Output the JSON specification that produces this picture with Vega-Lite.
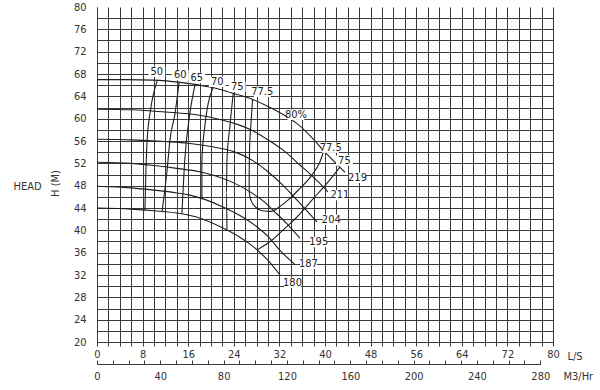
{
  "$schema": "https://vega.github.io/schema/vega-lite/v6.json",
  "width": 456,
  "height": 335,
  "autosize": {"type": "none"},
  "padding": {"left": 97, "top": 7, "right": 47, "bottom": 48},
  "background": "white",
  "config": {
    "font": "Liberation Sans Narrow, DejaVu Sans Condensed, DejaVu Sans",
    "view": {"stroke": null},
    "axis": {"labelFontSize": 11, "labelColor": "#333", "titleFontSize": 11, "titleColor": "#333", "titleFontWeight": "normal", "labelFlush": false, "labelOverlap": false, "domainColor": "#3a3a3a", "tickColor": "#3a3a3a", "gridColor": "#3a3a3a"}
  },
  "datasets": {
    "lines": [
      {"s": "219", "o": 0, "q": 0, "h": 67.0}, {"s": "219", "o": 1, "q": 5, "h": 67.0}, {"s": "219", "o": 2, "q": 10, "h": 66.9}, {"s": "219", "o": 3, "q": 14.6, "h": 66.5}, {"s": "219", "o": 4, "q": 18, "h": 66.0}, {"s": "219", "o": 5, "q": 21, "h": 65.4}, {"s": "219", "o": 6, "q": 24, "h": 64.5}, {"s": "219", "o": 7, "q": 27.4, "h": 63.4}, {"s": "219", "o": 8, "q": 30, "h": 62.2}, {"s": "219", "o": 9, "q": 32.6, "h": 60.8}, {"s": "219", "o": 10, "q": 35.1, "h": 59.1}, {"s": "219", "o": 11, "q": 37.7, "h": 56.6}, {"s": "219", "o": 12, "q": 40, "h": 54.0}, {"s": "219", "o": 13, "q": 42.1, "h": 51.8}, {"s": "219", "o": 14, "q": 43.5, "h": 50.4},
      {"s": "211", "o": 0, "q": 0, "h": 61.7}, {"s": "211", "o": 1, "q": 6, "h": 61.6}, {"s": "211", "o": 2, "q": 12, "h": 61.2}, {"s": "211", "o": 3, "q": 18, "h": 60.6}, {"s": "211", "o": 4, "q": 21, "h": 60.0}, {"s": "211", "o": 5, "q": 24, "h": 59.2}, {"s": "211", "o": 6, "q": 27, "h": 58.0}, {"s": "211", "o": 7, "q": 30, "h": 56.2}, {"s": "211", "o": 8, "q": 32.6, "h": 54.4}, {"s": "211", "o": 9, "q": 35.6, "h": 51.7}, {"s": "211", "o": 10, "q": 38, "h": 49.5}, {"s": "211", "o": 11, "q": 39.1, "h": 48.4}, {"s": "211", "o": 12, "q": 40.5, "h": 46.9},
      {"s": "204", "o": 0, "q": 0, "h": 56.3}, {"s": "204", "o": 1, "q": 6, "h": 56.2}, {"s": "204", "o": 2, "q": 12, "h": 55.9}, {"s": "204", "o": 3, "q": 16, "h": 55.6}, {"s": "204", "o": 4, "q": 20, "h": 55.0}, {"s": "204", "o": 5, "q": 24, "h": 54.1}, {"s": "204", "o": 6, "q": 27, "h": 52.7}, {"s": "204", "o": 7, "q": 30, "h": 50.5}, {"s": "204", "o": 8, "q": 32.6, "h": 48.1}, {"s": "204", "o": 9, "q": 35.1, "h": 45.4}, {"s": "204", "o": 10, "q": 37.7, "h": 42.5}, {"s": "204", "o": 11, "q": 38.6, "h": 41.5},
      {"s": "195", "o": 0, "q": 0, "h": 52.2}, {"s": "195", "o": 1, "q": 6, "h": 52.0}, {"s": "195", "o": 2, "q": 10, "h": 51.6}, {"s": "195", "o": 3, "q": 14, "h": 51.1}, {"s": "195", "o": 4, "q": 18, "h": 50.5}, {"s": "195", "o": 5, "q": 21, "h": 49.7}, {"s": "195", "o": 6, "q": 24, "h": 48.5}, {"s": "195", "o": 7, "q": 27, "h": 46.8}, {"s": "195", "o": 8, "q": 29.8, "h": 44.7}, {"s": "195", "o": 9, "q": 31, "h": 43.5}, {"s": "195", "o": 10, "q": 33.3, "h": 41.2}, {"s": "195", "o": 11, "q": 35.6, "h": 38.6},
      {"s": "187", "o": 0, "q": 0, "h": 47.9}, {"s": "187", "o": 1, "q": 6, "h": 47.6}, {"s": "187", "o": 2, "q": 10, "h": 47.2}, {"s": "187", "o": 3, "q": 14, "h": 46.7}, {"s": "187", "o": 4, "q": 16.3, "h": 46.3}, {"s": "187", "o": 5, "q": 19, "h": 45.5}, {"s": "187", "o": 6, "q": 22.1, "h": 44.2}, {"s": "187", "o": 7, "q": 25, "h": 42.7}, {"s": "187", "o": 8, "q": 28.1, "h": 40.6}, {"s": "187", "o": 9, "q": 30, "h": 38.9}, {"s": "187", "o": 10, "q": 32.1, "h": 36.4}, {"s": "187", "o": 11, "q": 34.7, "h": 33.9},
      {"s": "180", "o": 0, "q": 0, "h": 44.0}, {"s": "180", "o": 1, "q": 6, "h": 43.8}, {"s": "180", "o": 2, "q": 10, "h": 43.5}, {"s": "180", "o": 3, "q": 14.6, "h": 43.0}, {"s": "180", "o": 4, "q": 18, "h": 42.2}, {"s": "180", "o": 5, "q": 22.1, "h": 40.4}, {"s": "180", "o": 6, "q": 25, "h": 38.8}, {"s": "180", "o": 7, "q": 28.1, "h": 36.5}, {"s": "180", "o": 8, "q": 30, "h": 34.6}, {"s": "180", "o": 9, "q": 32.1, "h": 32.0},
      {"s": "e50", "o": 0, "q": 10.6, "h": 66.9}, {"s": "e50", "o": 1, "q": 9.4, "h": 61.6}, {"s": "e50", "o": 2, "q": 8.8, "h": 56.2}, {"s": "e50", "o": 3, "q": 8.6, "h": 51.3}, {"s": "e50", "o": 4, "q": 8.4, "h": 43.6},
      {"s": "e60", "o": 0, "q": 14.4, "h": 66.5}, {"s": "e60", "o": 1, "q": 13.7, "h": 61.0}, {"s": "e60", "o": 2, "q": 12.8, "h": 56.2}, {"s": "e60", "o": 3, "q": 12.3, "h": 50.8}, {"s": "e60", "o": 4, "q": 11.4, "h": 43.3},
      {"s": "e65", "o": 0, "q": 17.2, "h": 66.1}, {"s": "e65", "o": 1, "q": 16.3, "h": 61.0}, {"s": "e65", "o": 2, "q": 15.4, "h": 52.6}, {"s": "e65", "o": 3, "q": 14.9, "h": 43.0},
      {"s": "e70", "o": 0, "q": 20.4, "h": 65.6}, {"s": "e70", "o": 1, "q": 18.9, "h": 58.5}, {"s": "e70", "o": 2, "q": 18.4, "h": 52.6}, {"s": "e70", "o": 3, "q": 18.4, "h": 45.7},
      {"s": "e75", "o": 0, "q": 23.9, "h": 64.5}, {"s": "e75", "o": 1, "q": 23.3, "h": 58.5}, {"s": "e75", "o": 2, "q": 22.8, "h": 52.6}, {"s": "e75", "o": 3, "q": 22.7, "h": 46.7}, {"s": "e75", "o": 4, "q": 22.8, "h": 40.1},
      {"s": "e775", "o": 0, "q": 27.3, "h": 63.5}, {"s": "e775", "o": 1, "q": 27.0, "h": 59.0}, {"s": "e775", "o": 2, "q": 26.8, "h": 55.6}, {"s": "e775", "o": 3, "q": 26.7, "h": 50.0}, {"s": "e775", "o": 4, "q": 26.7, "h": 47.0}, {"s": "e775", "o": 5, "q": 27.0, "h": 45.4}, {"s": "e775", "o": 6, "q": 27.8, "h": 44.2}, {"s": "e775", "o": 7, "q": 29.0, "h": 43.5}, {"s": "e775", "o": 8, "q": 30.5, "h": 43.4}, {"s": "e775", "o": 9, "q": 32.0, "h": 44.2}, {"s": "e775", "o": 10, "q": 33.5, "h": 45.4}, {"s": "e775", "o": 11, "q": 35.3, "h": 47.2}, {"s": "e775", "o": 12, "q": 37.7, "h": 49.9}, {"s": "e775", "o": 13, "q": 39.0, "h": 52.0}, {"s": "e775", "o": 14, "q": 39.8, "h": 54.2},
      {"s": "e75r", "o": 0, "q": 28.1, "h": 36.5}, {"s": "e75r", "o": 1, "q": 30.9, "h": 38.4}, {"s": "e75r", "o": 2, "q": 33.0, "h": 40.4}, {"s": "e75r", "o": 3, "q": 35.0, "h": 42.3}, {"s": "e75r", "o": 4, "q": 37.7, "h": 45.4}, {"s": "e75r", "o": 5, "q": 40.4, "h": 48.5}, {"s": "e75r", "o": 6, "q": 42.6, "h": 51.3}
    ],
    "labels": [
      {"t": "50", "q": 10.5, "h": 68.4}, {"t": "60", "q": 14.6, "h": 67.8}, {"t": "65", "q": 17.5, "h": 67.3}, {"t": "70", "q": 21.1, "h": 66.6}, {"t": "75", "q": 24.6, "h": 65.7}, {"t": "77.5", "q": 29.0, "h": 64.8}, {"t": "80%", "q": 34.9, "h": 60.7}, {"t": "77.5", "q": 41.0, "h": 54.8}, {"t": "75", "q": 43.4, "h": 52.5},
      {"t": "219", "q": 45.7, "h": 49.4}, {"t": "211", "q": 42.6, "h": 46.3}, {"t": "204", "q": 41.1, "h": 41.9}, {"t": "195", "q": 38.9, "h": 37.9}, {"t": "187", "q": 37.1, "h": 34.0}, {"t": "180", "q": 34.3, "h": 30.6}
    ],
    "m3": [{"m3": 0, "h": 20}]
  },
  "layer": [
    {
      "encoding": {
        "x": {"field": "q", "type": "quantitative", "scale": {"domain": [0, 80], "nice": false, "zero": false},
          "axis": {"orient": "bottom", "values": [0,2,4,6,8,10,12,14,16,18,20,22,24,26,28,30,32,34,36,38,40,42,44,46,48,50,52,54,56,58,60,62,64,66,68,70,72,74,76,78,80],
            "labelExpr": "datum.value % 8 == 0 ? datum.label : ''", "grid": true, "gridWidth": 1, "tickSize": 4, "labelPadding": 2,
            "title": "L/S", "titleX": 470, "titleY": 17, "titleAlign": "left", "titleAnchor": "start", "titleBaseline": "alphabetic"}},
        "y": {"field": "h", "type": "quantitative", "scale": {"domain": [20, 80], "nice": false, "zero": false},
          "axis": {"orient": "left", "values": [20,22,24,26,28,30,32,34,36,38,40,42,44,46,48,50,52,54,56,58,60,62,64,66,68,70,72,74,76,78,80],
            "labelExpr": "datum.value % 4 == 0 ? datum.label : ''", "grid": true, "gridWidth": 1,
            "gridOpacity": {"condition": {"test": "datum.value == 80", "value": 0}, "value": 1},
            "ticks": false, "labelPadding": 11, "labelBaseline": "middle",
            "title": "H (M)", "titleAngle": -90, "titleX": -42, "titleY": 176, "titleAlign": "center", "titleBaseline": "middle"}}
      },
      "layer": [
        {"data": {"name": "lines"}, "mark": {"type": "line", "color": "#1e1e1e", "strokeWidth": 1.1, "interpolate": "monotone"},
          "encoding": {"detail": {"field": "s"}, "order": {"field": "o", "type": "quantitative"}}},
        {"data": {"name": "labels"}, "mark": {"type": "point", "shape": "M-1,-0.62H1V0.62H-1Z", "size": 280, "filled": true, "color": "white", "opacity": 1}},
        {"data": {"name": "labels"}, "mark": {"type": "text", "fontSize": 11, "color": "#222", "align": "center", "baseline": "middle"},
          "encoding": {"text": {"field": "t"}}}
      ]
    },
    {
      "data": {"name": "m3"},
      "mark": {"type": "point", "opacity": 0},
      "encoding": {
        "x": {"field": "m3", "type": "quantitative", "scale": {"domain": [0, 280], "range": [0, 443.3], "nice": false, "zero": false},
          "axis": {"orient": "bottom", "offset": 22, "values": [0,10,20,30,40,50,60,70,80,90,100,110,120,130,140,150,160,170,180,190,200,210,220,230,240,250,260,270,280],
            "labelExpr": "datum.value % 40 == 0 ? datum.label : ''", "grid": false, "tickSize": -4, "labelPadding": 10,
            "title": "M3/Hr", "titleX": 466, "titleY": 15, "titleAlign": "left", "titleAnchor": "start", "titleBaseline": "alphabetic"}},
        "y": {"field": "h", "type": "quantitative", "scale": {"domain": [20, 80], "nice": false, "zero": false},
          "axis": {"orient": "left", "labels": false, "ticks": false, "domain": false, "grid": false,
            "title": "HEAD", "titleAngle": 0, "titleX": -70, "titleY": 179, "titleAlign": "center", "titleBaseline": "middle"}}
      }
    }
  ],
  "resolve": {"scale": {"x": "independent", "y": "independent"}}
}
